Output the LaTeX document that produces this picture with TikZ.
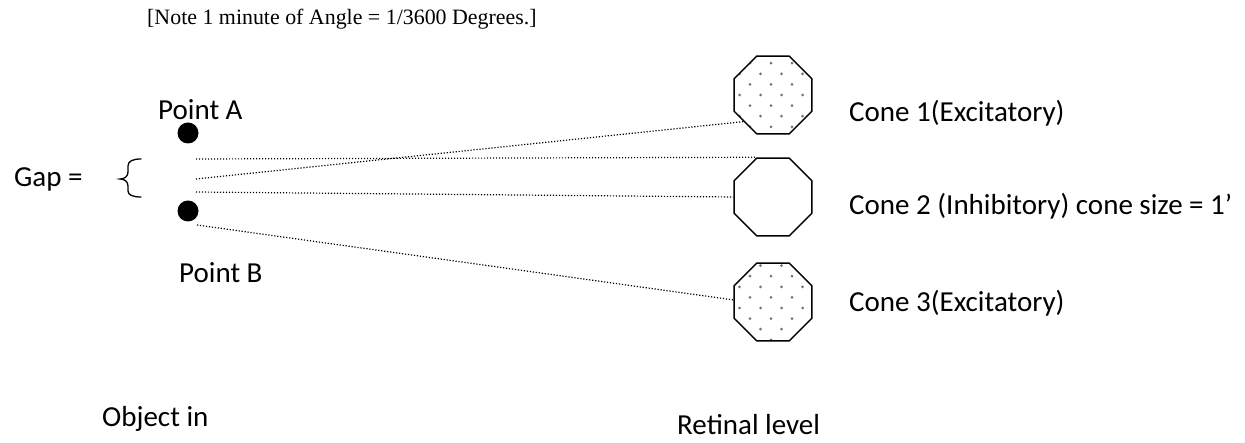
\documentclass[tikz,border=0pt]{standalone}
\usepackage{fontspec}
\setmainfont{Carlito}
\newfontfamily\notefont{Liberation Serif}
\usetikzlibrary{shapes.geometric}
\begin{document}
\begin{tikzpicture}[x=1pt,y=-1pt,
  lbl/.style={anchor=base west, inner sep=0pt, font=\fontsize{29}{34}\selectfont},
  notelbl/.style={anchor=base west, inner sep=0pt, font=\notefont\fontsize{21.9}{26}\selectfont},
  cone/.style={regular polygon, regular polygon sides=8, minimum size=84.4pt, inner sep=0pt, draw, line width=1.5pt},
  speckled/.style={path picture={
    \foreach \j in {-5,...,5}{
      \foreach \i in {-3,...,3}{
        \pgfmathsetmacro\xo{21*\i+10.5*(1-mod(abs(\j),2))-2}
        \pgfmathsetmacro\yo{10.6*\j+#1}
        \fill[black!55] ([shift={(\xo pt,\yo pt)}]path picture bounding box.center) circle[radius=1.5pt];
      }}
  }},
  ray/.style={line width=1.2pt, dash pattern=on 1.2pt off 1.8pt},
  pointdot/.style={circle, fill=black, inner sep=0pt, minimum size=21pt},
  bracestyle/.style={line width=1.3pt, line cap=round}]
\useasboundingbox (0,0) rectangle (1245,443);

% texts
\node[notelbl] (note) at (147,25) {[Note 1 minute of Angle = 1/3600 Degrees.]};
\node[lbl] (la) at (158,120) {Point A};
\node[lbl] (gap) at (14,187) {Gap =};
\node[lbl] (lb) at (179,283) {Point B};
\node[lbl] (obj) at (102,426) {Object in};
\node[lbl] (ret) at (677,435) {Retinal level};
\node[lbl] (t1) at (849,122) {Cone 1(Excitatory)};
\node[lbl] (t2) at (849,215) {Cone 2 (Inhibitory) cone size = 1’};
\node[lbl] (t3) at (849,312) {Cone 3(Excitatory)};

% points
\node[pointdot] (pa) at (188,133) {};
\node[pointdot] (pb) at (188,211) {};

% cones
\node[cone, speckled=0] (c1) at (773,95) {};
\node[cone] (c2) at (773,197) {};
\node[cone, speckled=-6] (c3) at (773,302) {};

% brace
\draw[bracestyle] (141,159) .. controls (133,159) and (128,161) .. (128,166) -- (128,172)
  .. controls (128,176) and (125,179) .. (120,179)
  .. controls (125,179) and (128,182) .. (128,186) -- (128,191)
  .. controls (128,195) and (133,197) .. (141,197);

% ray start points
\coordinate (s1) at (196,159);
\coordinate (s2) at (196,179);
\coordinate (s3) at (196,192);
\coordinate (s4) at (197,225);

\draw[ray] (s1) -- (c2.112.5);
\draw[ray] (s2) -- (c1.222);
\draw[ray] (s3) -- (c2.west);
\draw[ray] (s4) -- (c3.177);
\end{tikzpicture}
\end{document}
